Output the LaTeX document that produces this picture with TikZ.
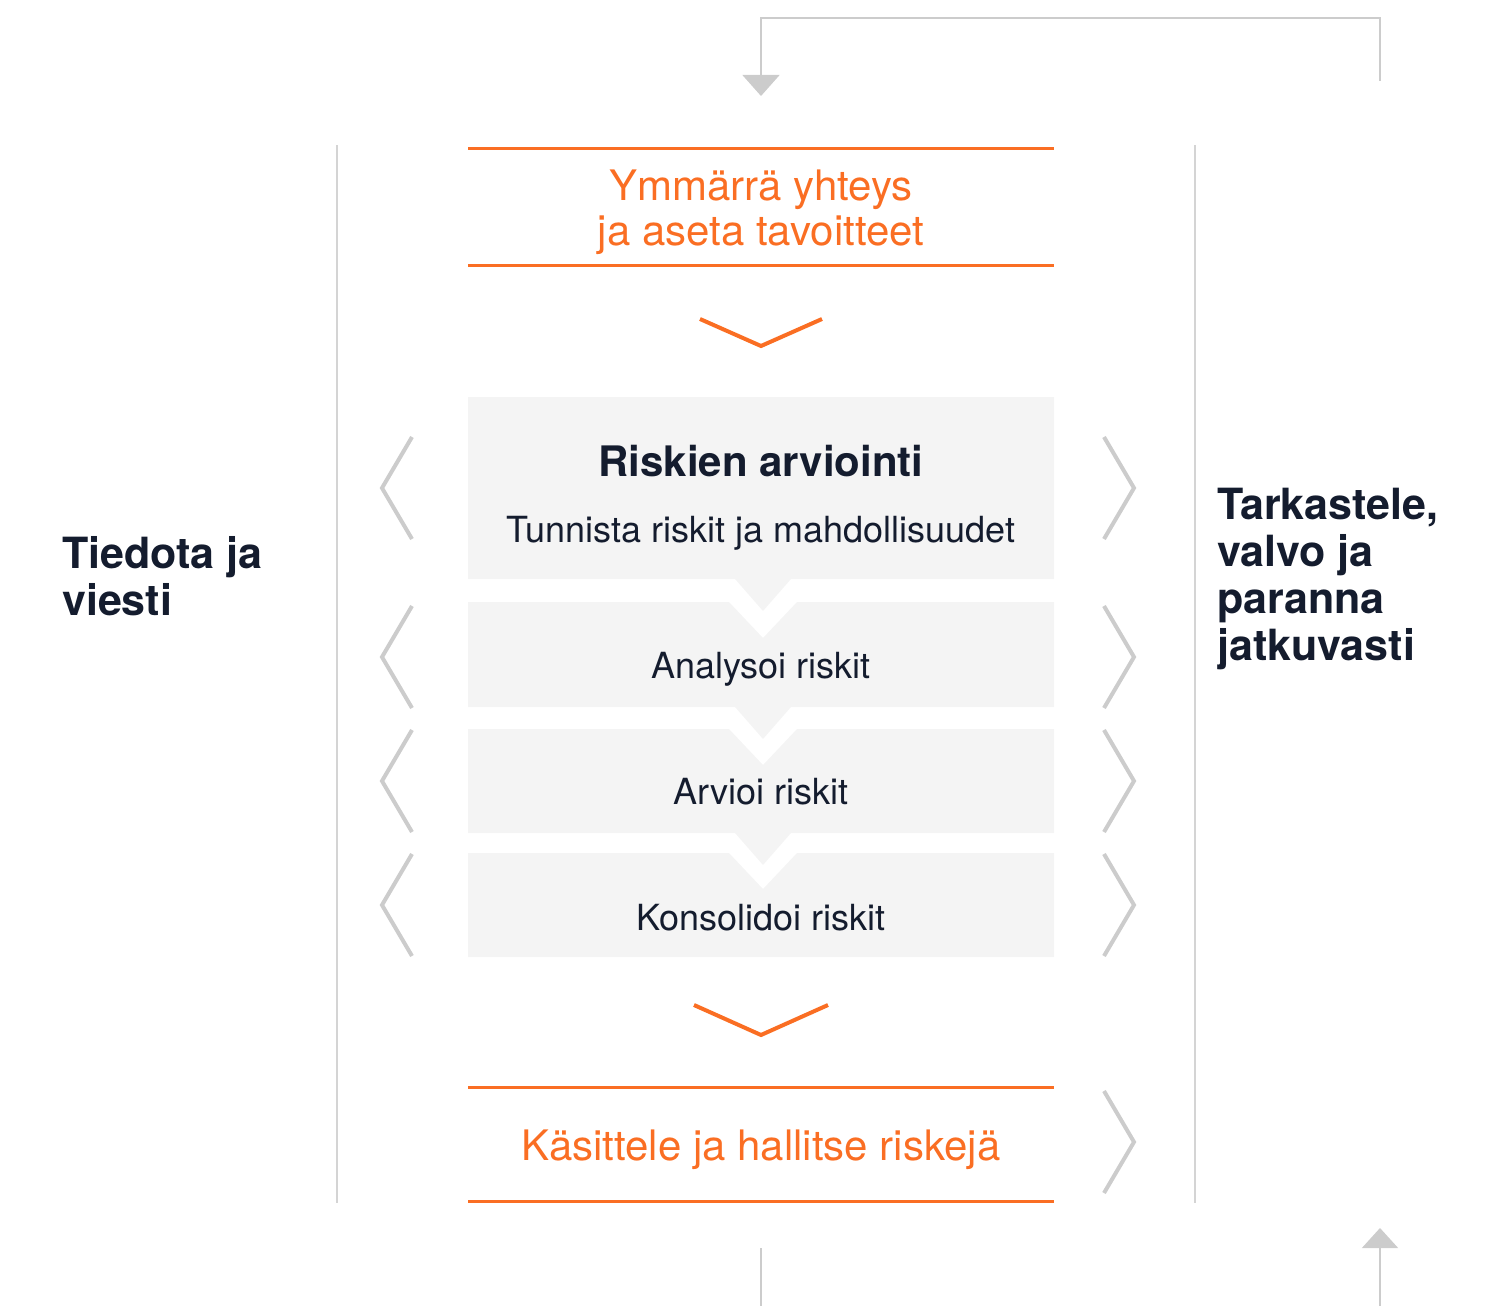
\documentclass[tikz,border=0pt]{standalone}
\usepackage{fontspec}
\setmainfont{TeX Gyre Heros}
\usetikzlibrary{arrows.meta, positioning}
\definecolor{riskorange}{RGB}{250,110,35}
\definecolor{riskgray}{RGB}{204,204,204}
\definecolor{riskfill}{RGB}{244,244,244}
\definecolor{riskink}{RGB}{20,28,46}
\tikzset{
  orangerule/.style={riskorange, line width=3pt},
  sideline/.style={riskgray!85, line width=1.2pt},
  greychev/.style={riskgray, line width=4pt},
  orangechev/.style={riskorange, line width=4pt},
  feedback/.style={riskgray, line width=1.5pt},
  block/.style={fill=riskfill},
  steptext/.style={text=riskink, font=\fontsize{36}{40}\selectfont, anchor=base},
  sidetext/.style={text=riskink, font=\fontsize{43}{47}\selectfont\bfseries, align=left, anchor=base west, inner sep=0pt},
  orangetext/.style={text=riskorange, font=\fontsize{42}{45}\selectfont, align=center, anchor=base, inner sep=0pt},
}

\begin{document}
\begin{tikzpicture}[x=1pt, y=-1pt]
  \useasboundingbox (0,0) rectangle (1492,1306);

  % Feedback loop
  \coordinate (loopstart) at (1380,81);
  \coordinate (loopend) at (761,96);
  \coordinate (backfrom) at (1380,1306);
  \coordinate (backto) at (1380,1228);
  \coordinate (outtop) at (761,1248);
  \coordinate (outbot) at (761,1306);
  \draw[feedback, -{Triangle[width=37pt,length=21pt]}] (loopstart) |- (loopend |- 0,18) -- (loopend);
  \draw[feedback, -{Triangle[width=36pt,length=20pt]}] (backfrom) -- (backto);
  \draw[feedback] (outtop) -- (outbot);

  % Side lines
  \draw[sideline] (337,145) -- (337,1203);
  \draw[sideline] (1195,145) -- (1195,1203);

  % Goals
  \draw[orangerule] (468,148) -- (1054,148);
  \draw[orangerule] (468,265) -- (1054,265);
  \node[orangetext] (goal) at (761,245) {Ymmärrä yhteys\\ja aseta tavoitteet};
  \draw[orangechev] (700,319) -- (761,346) -- (822,319);

  % Risk assessment blocks
  \fill[block] (468,397) -- (1054,397) -- (1054,579) -- (791,579) -- (763,611)
    -- (735,579) -- (468,579) -- cycle;
  \fill[block] (468,602) -- (729,602) -- (763,638) -- (797,602) -- (1054,602)
    -- (1054,707) -- (791,707) -- (763,739) -- (735,707) -- (468,707) -- cycle;
  \fill[block] (468,729) -- (729,729) -- (763,765) -- (797,729) -- (1054,729)
    -- (1054,833) -- (791,833) -- (763,865) -- (735,833) -- (468,833) -- cycle;
  \fill[block] (468,853) -- (729,853) -- (763,889) -- (797,853) -- (1054,853)
    -- (1054,957) -- (468,957) -- cycle;

  \node[steptext, font=\fontsize{42}{45}\selectfont\bfseries] (assess) at (761,476) {Riskien arviointi};
  \node[steptext] (identify) at (761,542) {Tunnista riskit ja mahdollisuudet};
  \node[steptext] (analyse) at (761,678) {Analysoi riskit};
  \node[steptext] (evaluate) at (761,804) {Arvioi riskit};
  \node[steptext] (consolidate) at (761,930) {Konsolidoi riskit};

  % Chevrons
  \foreach \y in {488,657,781,905}
    \draw[greychev] (412,\y-51) -- (382,\y) -- (412,\y+51);
  \foreach \y in {488,657,781,905,1142}
    \draw[greychev] (1104,\y-51) -- (1134,\y) -- (1104,\y+51);

  % Treatment
  \draw[orangechev] (694,1005) -- (761,1035) -- (828,1005);
  \draw[orangerule] (468,1087) -- (1054,1087);
  \draw[orangerule] (468,1201) -- (1054,1201);
  \node[orangetext] (treat) at (761,1160) {Käsittele ja hallitse riskejä};

  % Side texts
  \node[sidetext] (communicate) at (62,615) {Tiedota ja\\viesti};
  \node[sidetext] (monitor) at (1217,660) {Tarkastele,\\valvo ja\\paranna\\jatkuvasti};
\end{tikzpicture}
\end{document}
